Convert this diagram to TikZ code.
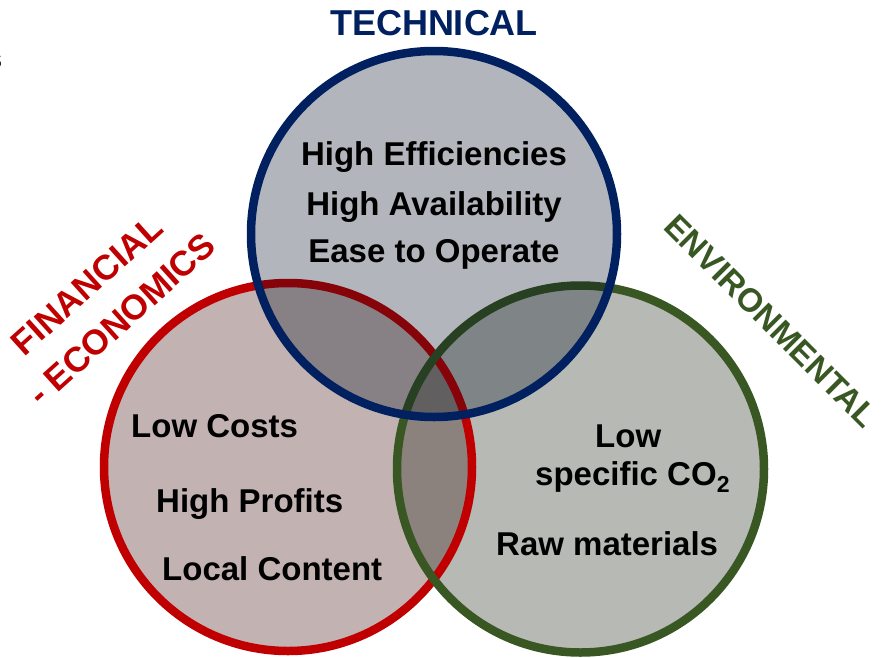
\documentclass[tikz,border=0pt]{standalone}
\usepackage{fontspec}
\setmainfont{Liberation Sans}
\definecolor{techblue}{RGB}{0,32,96}
\definecolor{finred}{RGB}{192,0,0}
\definecolor{envgreen}{RGB}{56,87,35}
\definecolor{techfill}{RGB}{0,12,32}
\definecolor{finfill}{RGB}{55,0,0}
\definecolor{envfill}{RGB}{15,22,5}
\tikzset{
  ring/.style={line width=8.5pt},
  area/.style={fill opacity=0.3},
  item/.style={font=\bfseries\fontsize{33}{40}\selectfont, text=black, inner sep=0pt},
  heading/.style={font=\bfseries\fontsize{36}{43}\selectfont, inner sep=0pt}
}
\begin{document}
\begin{tikzpicture}[x=1pt,y=-1pt]
\useasboundingbox (0,0) rectangle (884,657);

% the lower two areas: fills first, then their rings
\fill[area, finfill] (288,467) circle[radius=184];
\fill[area, envfill] (580.5,469) circle[radius=183.5];
\draw[ring, finred] (288,467) circle[radius=184];
\draw[ring, envgreen] (580.5,469) circle[radius=183.5];
% the upper area tints everything below it
\draw[ring, draw=techblue, fill=techfill, fill opacity=0.3] (434,234) circle[radius=183];

% headings
\node[heading, text=techblue, anchor=base] (tech) at (434,35) {TECHNICAL};
\node[heading, text=finred, anchor=base, rotate=42, font=\bfseries\fontsize{35}{42}\selectfont] (fin1) at (95,294) {FINANCIAL};
\node[heading, text=finred, anchor=base, rotate=42, font=\bfseries\fontsize{35}{42}\selectfont] (fin2) at (130,328) {- ECONOMICS};
\node[heading, text=envgreen, anchor=base, rotate=-45, font=\bfseries\fontsize{33}{39}\selectfont] (env) at (763,329) {ENVIRONMENTAL};

% technical goals
\node[item, anchor=base] (t1) at (434,165) {High Efficiencies};
\node[item, anchor=base] (t2) at (434,215) {High Availability};
\node[item, anchor=base] (t3) at (434,262) {Ease to Operate};

% financial goals
\node[item, anchor=base west] (f1) at (131,437) {Low Costs};
\node[item, anchor=base west] (f2) at (156,512) {High Profits};
\node[item, anchor=base west] (f3) at (162,580) {Local Content};

% environmental goals
\node[item, anchor=base west] (e1) at (595,447) {Low};
\node[item, anchor=base west] (e2) at (535,485) {specific CO\raisebox{-0.24em}{\fontsize{23}{23}\selectfont 2}};
\node[item, anchor=base west] (e3) at (496,555) {Raw materials};

% cut-off letter at the left border
\begin{scope}
  \clip (0,0) rectangle (884,657);
  \node[item, anchor=base east, font=\bfseries\fontsize{28}{32}\selectfont] (edge) at (2.5,68) {s};
\end{scope}
\end{tikzpicture}
\end{document}
